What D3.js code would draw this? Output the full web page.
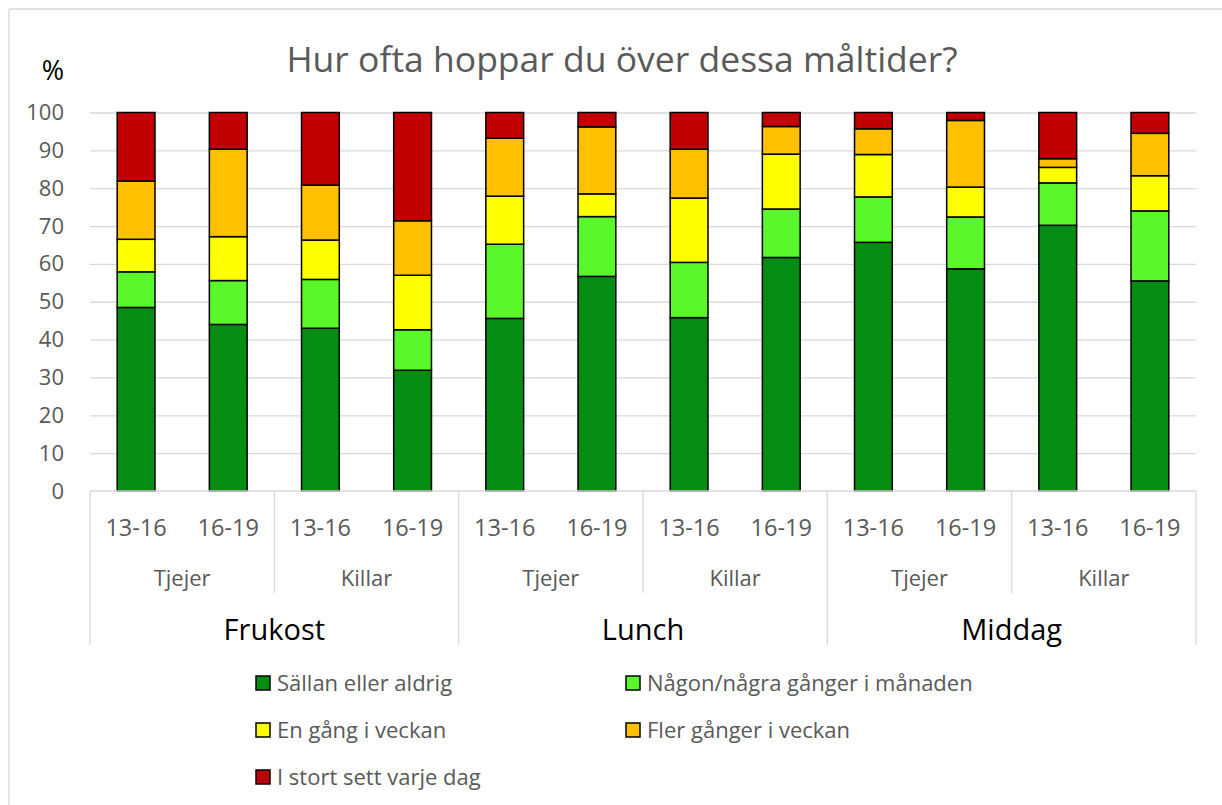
<!DOCTYPE html>
<meta charset="utf-8">
<style>
body { margin: 0; background: #fff; }
text { font-family: "Open Sans", "Noto Sans", sans-serif; }
.grey { fill: #595959; }
</style>
<svg width="1222" height="805"></svg>
<script src="https://d3js.org/d3.v7.min.js"></script>
<script>

// categories
var meals = ["Frukost", "Lunch", "Middag"];
var genders = ["Tjejer", "Killar"];
var ages = ["13-16", "16-19"];
var yTicks = [0, 10, 20, 30, 40, 50, 60, 70, 80, 90, 100];

// series (percent), one value per bar, left to right
var seriesNames = ["Sällan eller aldrig", "Någon/några gånger i månaden", "En gång i veckan",
                   "Fler gånger i veckan", "I stort sett varje dag"];
var sallan   = [48.5, 44.0, 43.0, 31.9, 45.6, 56.7, 45.8, 61.7, 65.7, 58.7, 70.2, 55.5];
var nagon    = [ 9.4, 11.6, 12.9, 10.7, 19.6, 15.8, 14.6, 12.8, 12.0, 13.7, 11.2, 18.5];
var enGang   = [ 8.6, 11.6, 10.4, 14.4, 12.7,  6.0, 17.0, 14.5, 11.2,  7.9,  4.1,  9.3];
var fler     = [15.4, 23.1, 14.5, 14.4, 15.3, 17.7, 12.9,  7.3,  6.8, 17.6,  2.3, 11.2];
var varjeDag = [18.1,  9.7, 19.2, 28.6,  6.8,  3.8,  9.7,  3.7,  4.3,  2.1, 12.2,  5.5];
var colors = ["#058C12", "#5AF82A", "#FFFF00", "#FFC000", "#C00000"];

var allSeries = [sallan, nagon, enGang, fler, varjeDag];

// build rows for d3.stack
var rows = [];
meals.forEach(function(m) {
  genders.forEach(function(g) {
    ages.forEach(function(a) {
      var i = rows.length;
      var row = {key: m + "|" + g + "|" + a, meal: m, gender: g, age: a};
      seriesNames.forEach(function(s, j) { row[s] = allSeries[j][i]; });
      rows.push(row);
    });
  });
});

var svg = d3.select("svg");
var plotLeft = 90, plotRight = 1196, plotTop = 112.5, plotBottom = 491;

// chart frame (only top and left edges visible)
svg.append("line").attr("x1", 9).attr("x2", 1222).attr("y1", 9).attr("y2", 9)
  .attr("stroke", "#d9d9d9").attr("stroke-width", 1.3);
svg.append("line").attr("x1", 9).attr("x2", 9).attr("y1", 9).attr("y2", 805)
  .attr("stroke", "#d9d9d9").attr("stroke-width", 1.3);

var x = d3.scaleBand()
  .domain(rows.map(function(d) { return d.key; }))
  .range([plotLeft, plotRight])
  .paddingInner(0.59)
  .paddingOuter(0.295);

var y = d3.scaleLinear().domain([0, 100]).range([plotBottom, plotTop]);

// gridlines
svg.append("g")
  .attr("transform", "translate(" + plotLeft + ",0)")
  .call(d3.axisLeft(y).tickValues(yTicks.slice(1)).tickSize(-(plotRight - plotLeft)).tickFormat(""))
  .call(function(g) { g.select(".domain").remove(); })
  .selectAll("line").attr("stroke", "#d9d9d9").attr("stroke-width", 1.3);

// y labels
svg.append("g")
  .attr("transform", "translate(" + plotLeft + ",0)")
  .call(d3.axisLeft(y).tickValues(yTicks).tickSize(0).tickPadding(26))
  .call(function(g) { g.select(".domain").remove(); })
  .selectAll("text")
    .attr("class", "grey")
    .style("font-size", "22px")
    .style("font-family", "'Open Sans', sans-serif");

svg.append("text")
  .attr("x", 53).attr("y", 80)
  .attr("text-anchor", "middle")
  .style("font-size", "27px")
  .text("%");

svg.append("text")
  .attr("x", 622).attr("y", 72)
  .attr("text-anchor", "middle")
  .attr("class", "grey")
  .style("font-size", "35.5px")
  .text("Hur ofta hoppar du över dessa måltider?");

// stacked bars
var stack = d3.stack().keys(seriesNames);
var layers = stack(rows);

svg.append("g").selectAll("g")
  .data(layers)
  .join("g")
    .attr("fill", function(d, i) { return colors[i]; })
  .selectAll("rect")
  .data(function(d) { return d; })
  .join("rect")
    .attr("x", function(d) { return x(d.data.key); })
    .attr("y", function(d) { return y(d[1]); })
    .attr("width", x.bandwidth())
    .attr("height", function(d) { return y(d[0]) - y(d[1]); })
    .attr("stroke", "#000")
    .attr("stroke-width", 1.5);

// multi-level x axis
var axisG = svg.append("g");
var step = x.step();
var sepColor = "#d9d9d9";

axisG.append("line")
  .attr("x1", plotLeft).attr("x2", plotRight).attr("y1", plotBottom).attr("y2", plotBottom)
  .attr("stroke", sepColor).attr("stroke-width", 1.3);

// age labels
axisG.selectAll(".age")
  .data(rows)
  .join("text")
    .attr("class", "grey")
    .attr("x", function(d) { return x(d.key) + x.bandwidth() / 2; })
    .attr("y", 536)
    .attr("text-anchor", "middle")
    .style("font-size", "23.5px")
    .text(function(d) { return d.age; });

// gender groups
var genderGroups = [];
meals.forEach(function(m) {
  genders.forEach(function(g) { genderGroups.push({meal: m, gender: g}); });
});
axisG.selectAll(".gender")
  .data(genderGroups)
  .join("text")
    .attr("class", "grey")
    .attr("x", function(d, i) { return plotLeft + step * (2 * i + 1); })
    .attr("y", 586)
    .attr("text-anchor", "middle")
    .style("font-size", "22px")
    .text(function(d) { return d.gender; });

axisG.selectAll(".gsep")
  .data(d3.range(genderGroups.length + 1))
  .join("line")
    .attr("x1", function(i) { return plotLeft + step * 2 * i; })
    .attr("x2", function(i) { return plotLeft + step * 2 * i; })
    .attr("y1", plotBottom)
    .attr("y2", function(i) { return i % 2 === 0 ? 645 : 593; })
    .attr("stroke", sepColor).attr("stroke-width", 1.3);

axisG.selectAll(".meal")
  .data(meals)
  .join("text")
    .attr("x", function(d, i) { return plotLeft + step * (4 * i + 2); })
    .attr("y", 640)
    .attr("text-anchor", "middle")
    .style("font-size", "29px")
    .text(function(d) { return d; });

// legend
var legendPos = [[256, 683], [626, 683], [256, 730], [626, 730], [256, 777]];
var legend = svg.append("g").selectAll("g")
  .data(seriesNames)
  .join("g")
    .attr("transform", function(d, i) { return "translate(" + legendPos[i][0] + "," + legendPos[i][1] + ")"; });

legend.append("rect")
  .attr("x", 0).attr("y", -7).attr("width", 14).attr("height", 14)
  .attr("fill", function(d, i) { return colors[i]; })
  .attr("stroke", "#000").attr("stroke-width", 1.5);

legend.append("text")
  .attr("class", "grey")
  .attr("x", 21).attr("y", 8)
  .style("font-size", "22px")
  .text(function(d) { return d; });

</script>
